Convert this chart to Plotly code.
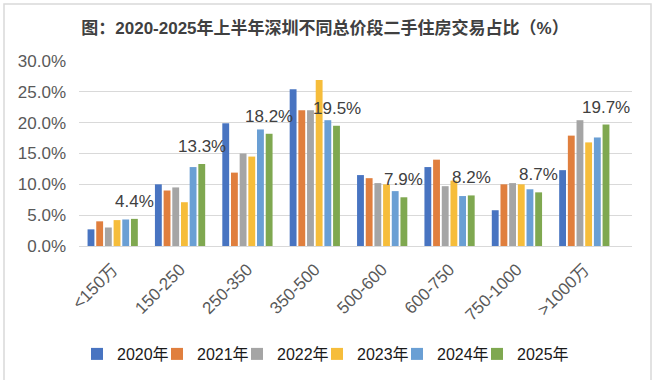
import plotly.graph_objects as go

categories = ["<150万", "150-250", "250-350", "350-500", "500-600", "600-750", "750-1000", ">1000万"]
years = ["2020年", "2021年", "2022年", "2023年", "2024年", "2025年"]
v2020 = [2.7, 10.0, 19.9, 25.4, 11.5, 12.8, 5.8, 12.3]
v2021 = [4.0, 9.0, 11.9, 22.0, 11.0, 14.0, 10.0, 17.9]
v2022 = [3.0, 9.5, 15.0, 22.0, 10.2, 9.7, 10.2, 20.4]
v2023 = [4.2, 7.1, 14.5, 26.9, 10.0, 10.6, 10.0, 16.8]
v2024 = [4.3, 12.8, 18.9, 20.4, 8.9, 8.1, 9.2, 17.6]
v2025 = [4.4, 13.3, 18.2, 19.5, 7.9, 8.2, 8.7, 19.7]
series = [v2020, v2021, v2022, v2023, v2024, v2025]
colors = ["#4874C1", "#E07F3E", "#A5A5A5", "#F6BD3B", "#6A9FD4", "#7FA850"]
y_ticks = [0, 5, 10, 15, 20, 25, 30]

W, H = 655, 380
L, R, T, B = 79, 23, 61, 134
BARGAP = 0.227
BARGROUPGAP = 0.21

FONT = "Liberation Sans, Arial, Noto Sans CJK SC, sans-serif"

# legend layout: first entry left edge, pitch between entries, vertical centre (px)
legend_x0 = 77
legend_pitch = 80
legend_y = 354

fig = go.Figure()
for k, (name, vals, col) in enumerate(zip(years, series, colors)):
    lg = "legend" if k == 0 else f"legend{k + 1}"
    fig.add_trace(go.Bar(x=categories, y=vals, name=name, legend=lg,
                         marker=dict(color=col, line=dict(width=0))))

# data labels on the last series (2025)
n = len(series)
offset = (n - 1 - (n - 1) / 2) * (1 - BARGAP) / n
for i, v in enumerate(v2025):
    fig.add_annotation(x=i + offset, y=v, xref="x", yref="y", text=f"{v:.1f}%",
                       showarrow=False, yanchor="bottom", xanchor="center", yshift=6,
                       font=dict(family=FONT, size=17, color="#404040"))

pw = W - L - R
ph = H - T - B
fig.add_shape(type="rect", xref="paper", yref="paper",
              x0=(4 - L) / pw, x1=(651 - L) / pw,
              y0=(H - B - 382) / ph, y1=(H - B - 4) / ph,
              line=dict(color="#D9D9D9", width=1.5), fillcolor="rgba(0,0,0,0)", layer="below")

legends = {}
for k in range(len(years)):
    key = "legend" if k == 0 else f"legend{k + 1}"
    legends[key] = dict(orientation="h", xref="container", yref="container",
                        x=(legend_x0 + k * legend_pitch) / W, xanchor="left",
                        y=1 - legend_y / H, yanchor="middle",
                        font=dict(family=FONT, size=16, color="#1a1a1a"), itemwidth=30,
                        bgcolor="rgba(0,0,0,0)", borderwidth=0)

fig.update_layout(
    width=W, height=H,
    margin=dict(l=L, r=R, t=T, b=B, pad=0, autoexpand=False),
    paper_bgcolor="white", plot_bgcolor="white",
    barmode="group", bargap=BARGAP, bargroupgap=BARGROUPGAP,
    title=dict(text="<b>图：2020-2025年上半年深圳不同总价段二手住房交易占比（%）</b>",
               x=325 / W, xref="container", xanchor="center", y=1 - 22 / H, yref="container", yanchor="top",
               pad=dict(t=0, b=0, l=0, r=0), automargin=False,
               font=dict(family=FONT, size=17, color="#404040")),
    font=dict(family=FONT, size=17, color="#595959"),
    showlegend=True,
    **legends,
)
fig.update_xaxes(type="category", tickangle=-45, showline=True, linecolor="#D9D9D9", linewidth=1,
                 ticks="", showgrid=False, ticklabelstandoff=6, automargin=False,
                 tickfont=dict(family=FONT, size=17, color="#595959"))
fig.update_yaxes(range=[0, 30], tickvals=y_ticks, ticktext=[f"{t:.1f}%" for t in y_ticks],
                 showgrid=True, gridcolor="#D9D9D9", gridwidth=1, zeroline=False, automargin=False,
                 ticks="", ticklabelstandoff=12, tickfont=dict(family=FONT, size=17, color="#595959"))

fig.write_html("out.html", config={"displayModeBar": False},
               post_script="document.body.style.margin='0';document.body.style.overflow='hidden';")
